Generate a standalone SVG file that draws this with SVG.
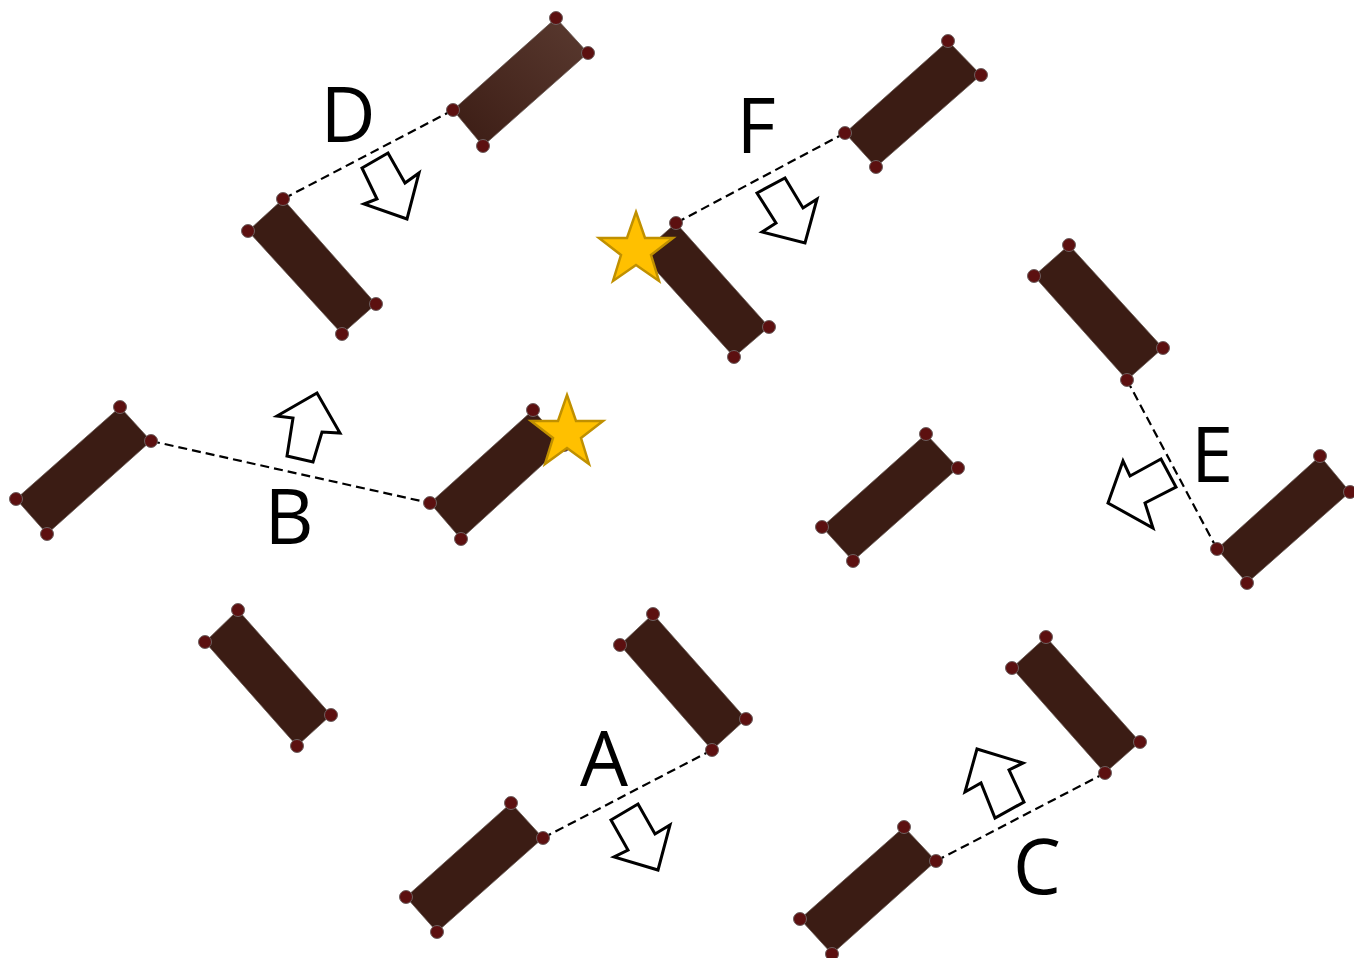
<svg xmlns="http://www.w3.org/2000/svg" width="1354" height="958" viewBox="0 0 1354 958">
<style>
.mol{fill:#3b1c14;stroke:#6a5a55;stroke-width:0.8;stroke-linejoin:round}
.dot{fill:#5c1010;stroke:#6e6060;stroke-width:1}
.dash{stroke:#000;stroke-width:2.2;stroke-dasharray:9 5;fill:none}
.arr{fill:#fff;stroke:#000;stroke-width:3;stroke-linejoin:miter}
.star{fill:#FFC000;stroke:#C09000;stroke-width:2.5;stroke-linejoin:miter}
.lbl{font-family:"Open Sans","Liberation Sans",sans-serif;font-size:76px;fill:#000;text-anchor:middle}
</style>
<defs>
<linearGradient id="g1" x1="0" y1="1" x2="1" y2="0">
<stop offset="0" stop-color="#3b1c14"/>
<stop offset="1" stop-color="#5a3a30"/>
</linearGradient>
</defs>
<g id="connectors">
<line class="dash" x1="453" y1="110" x2="283" y2="199"/>
<line class="dash" x1="845" y1="133" x2="676" y2="223"/>
<line class="dash" x1="151" y1="441" x2="430" y2="503"/>
<line class="dash" x1="1127" y1="380" x2="1217" y2="549"/>
<line class="dash" x1="543" y1="838" x2="712" y2="750"/>
<line class="dash" x1="936" y1="861" x2="1105" y2="773"/>
</g>
<g id="m1"><polygon class="mol" style="fill:url(#g1)" points="556,18 588,53 483,146 453,110"/><circle class="dot" cx="556" cy="18" r="6.5"/><circle class="dot" cx="588" cy="53" r="6.5"/><circle class="dot" cx="483" cy="146" r="6.5"/><circle class="dot" cx="453" cy="110" r="6.5"/></g>
<g id="m2"><polygon class="mol" points="283,199 376,304 342,334 248,231"/><circle class="dot" cx="283" cy="199" r="6.5"/><circle class="dot" cx="376" cy="304" r="6.5"/><circle class="dot" cx="342" cy="334" r="6.5"/><circle class="dot" cx="248" cy="231" r="6.5"/></g>
<g id="m3"><polygon class="mol" points="948,41 981,75 876,167 845,133"/><circle class="dot" cx="948" cy="41" r="6.5"/><circle class="dot" cx="981" cy="75" r="6.5"/><circle class="dot" cx="876" cy="167" r="6.5"/><circle class="dot" cx="845" cy="133" r="6.5"/></g>
<g id="m4"><polygon class="mol" points="676,223 769,327 734,357 641,254"/><circle class="dot" cx="676" cy="223" r="6.5"/><circle class="dot" cx="769" cy="327" r="6.5"/><circle class="dot" cx="734" cy="357" r="6.5"/><circle class="dot" cx="641" cy="254" r="6.5"/></g>
<g id="m5"><polygon class="mol" points="1069,245 1163,348 1127,380 1034,276"/><circle class="dot" cx="1069" cy="245" r="6.5"/><circle class="dot" cx="1163" cy="348" r="6.5"/><circle class="dot" cx="1127" cy="380" r="6.5"/><circle class="dot" cx="1034" cy="276" r="6.5"/></g>
<g id="m6"><polygon class="mol" points="1320,456 1350,492 1247,583 1217,549"/><circle class="dot" cx="1320" cy="456" r="6.5"/><circle class="dot" cx="1350" cy="492" r="6.5"/><circle class="dot" cx="1247" cy="583" r="6.5"/><circle class="dot" cx="1217" cy="549" r="6.5"/></g>
<g id="m7"><polygon class="mol" points="120,407 151,441 47,534 16,499"/><circle class="dot" cx="120" cy="407" r="6.5"/><circle class="dot" cx="151" cy="441" r="6.5"/><circle class="dot" cx="47" cy="534" r="6.5"/><circle class="dot" cx="16" cy="499" r="6.5"/></g>
<g id="m8"><polygon class="mol" points="533,410 564,445 461,539 430,503"/><circle class="dot" cx="533" cy="410" r="6.5"/><circle class="dot" cx="564" cy="445" r="6.5"/><circle class="dot" cx="461" cy="539" r="6.5"/><circle class="dot" cx="430" cy="503" r="6.5"/></g>
<g id="m9"><polygon class="mol" points="926,434 958,468 853,561 822,527"/><circle class="dot" cx="926" cy="434" r="6.5"/><circle class="dot" cx="958" cy="468" r="6.5"/><circle class="dot" cx="853" cy="561" r="6.5"/><circle class="dot" cx="822" cy="527" r="6.5"/></g>
<g id="m10"><polygon class="mol" points="238,610 331,715 297,746 205,642"/><circle class="dot" cx="238" cy="610" r="6.5"/><circle class="dot" cx="331" cy="715" r="6.5"/><circle class="dot" cx="297" cy="746" r="6.5"/><circle class="dot" cx="205" cy="642" r="6.5"/></g>
<g id="m11"><polygon class="mol" points="653,614 746,719 712,750 620,645"/><circle class="dot" cx="653" cy="614" r="6.5"/><circle class="dot" cx="746" cy="719" r="6.5"/><circle class="dot" cx="712" cy="750" r="6.5"/><circle class="dot" cx="620" cy="645" r="6.5"/></g>
<g id="m12"><polygon class="mol" points="511,803 543,838 437,932 406,897"/><circle class="dot" cx="511" cy="803" r="6.5"/><circle class="dot" cx="543" cy="838" r="6.5"/><circle class="dot" cx="437" cy="932" r="6.5"/><circle class="dot" cx="406" cy="897" r="6.5"/></g>
<g id="m13"><polygon class="mol" points="1046,637 1140,742 1105,773 1012,668"/><circle class="dot" cx="1046" cy="637" r="6.5"/><circle class="dot" cx="1140" cy="742" r="6.5"/><circle class="dot" cx="1105" cy="773" r="6.5"/><circle class="dot" cx="1012" cy="668" r="6.5"/></g>
<g id="m14"><polygon class="mol" points="904,827 936,861 832,954 800,919"/><circle class="dot" cx="904" cy="827" r="6.5"/><circle class="dot" cx="936" cy="861" r="6.5"/><circle class="dot" cx="832" cy="954" r="6.5"/><circle class="dot" cx="800" cy="919" r="6.5"/></g>
<g id="star1"><polygon class="star" points="636,212 645,238 673,238 651,255 659,281 636,265 613,281 621,255 599,238 627,238"/></g>
<g id="star2"><polygon class="star" points="567,395 576,421 603,421 581,438 589,464 567,448 545,464 553,438 531,421 558,421"/></g>
<g id="arrowD"><polygon class="arr" points="362,168 388,153 405,183 419,173 407,219 364,204 377,199"/></g>
<g id="arrowF"><polygon class="arr" points="757,193 785,178 803,208 817,199 805,243 762,232 776,223"/></g>
<g id="arrowB"><polygon class="arr" points="287,456 313,462 322,432 340,433 317,393 277,416 293,418"/></g>
<g id="arrowE"><polygon class="arr" points="1161,459 1176,487 1145,503 1153,528 1108,503 1123,461 1130,476"/></g>
<g id="arrowC"><polygon class="arr" points="977,749 1023,763 1009,770 1024,802 995,818 981,783 965,792"/></g>
<g id="arrowA"><polygon class="arr" points="638,804 655,834 670,825 658,870 614,857 628,850 611,820"/></g>
<g id="labels">
<text class="lbl" x="348" y="142">D</text>
<text class="lbl" x="756" y="153">F</text>
<text class="lbl" x="289" y="544">B</text>
<text class="lbl" x="1212" y="482">E</text>
<text class="lbl" x="604" y="786">A</text>
<text class="lbl" x="1037" y="894">C</text>
</g>
</svg>
